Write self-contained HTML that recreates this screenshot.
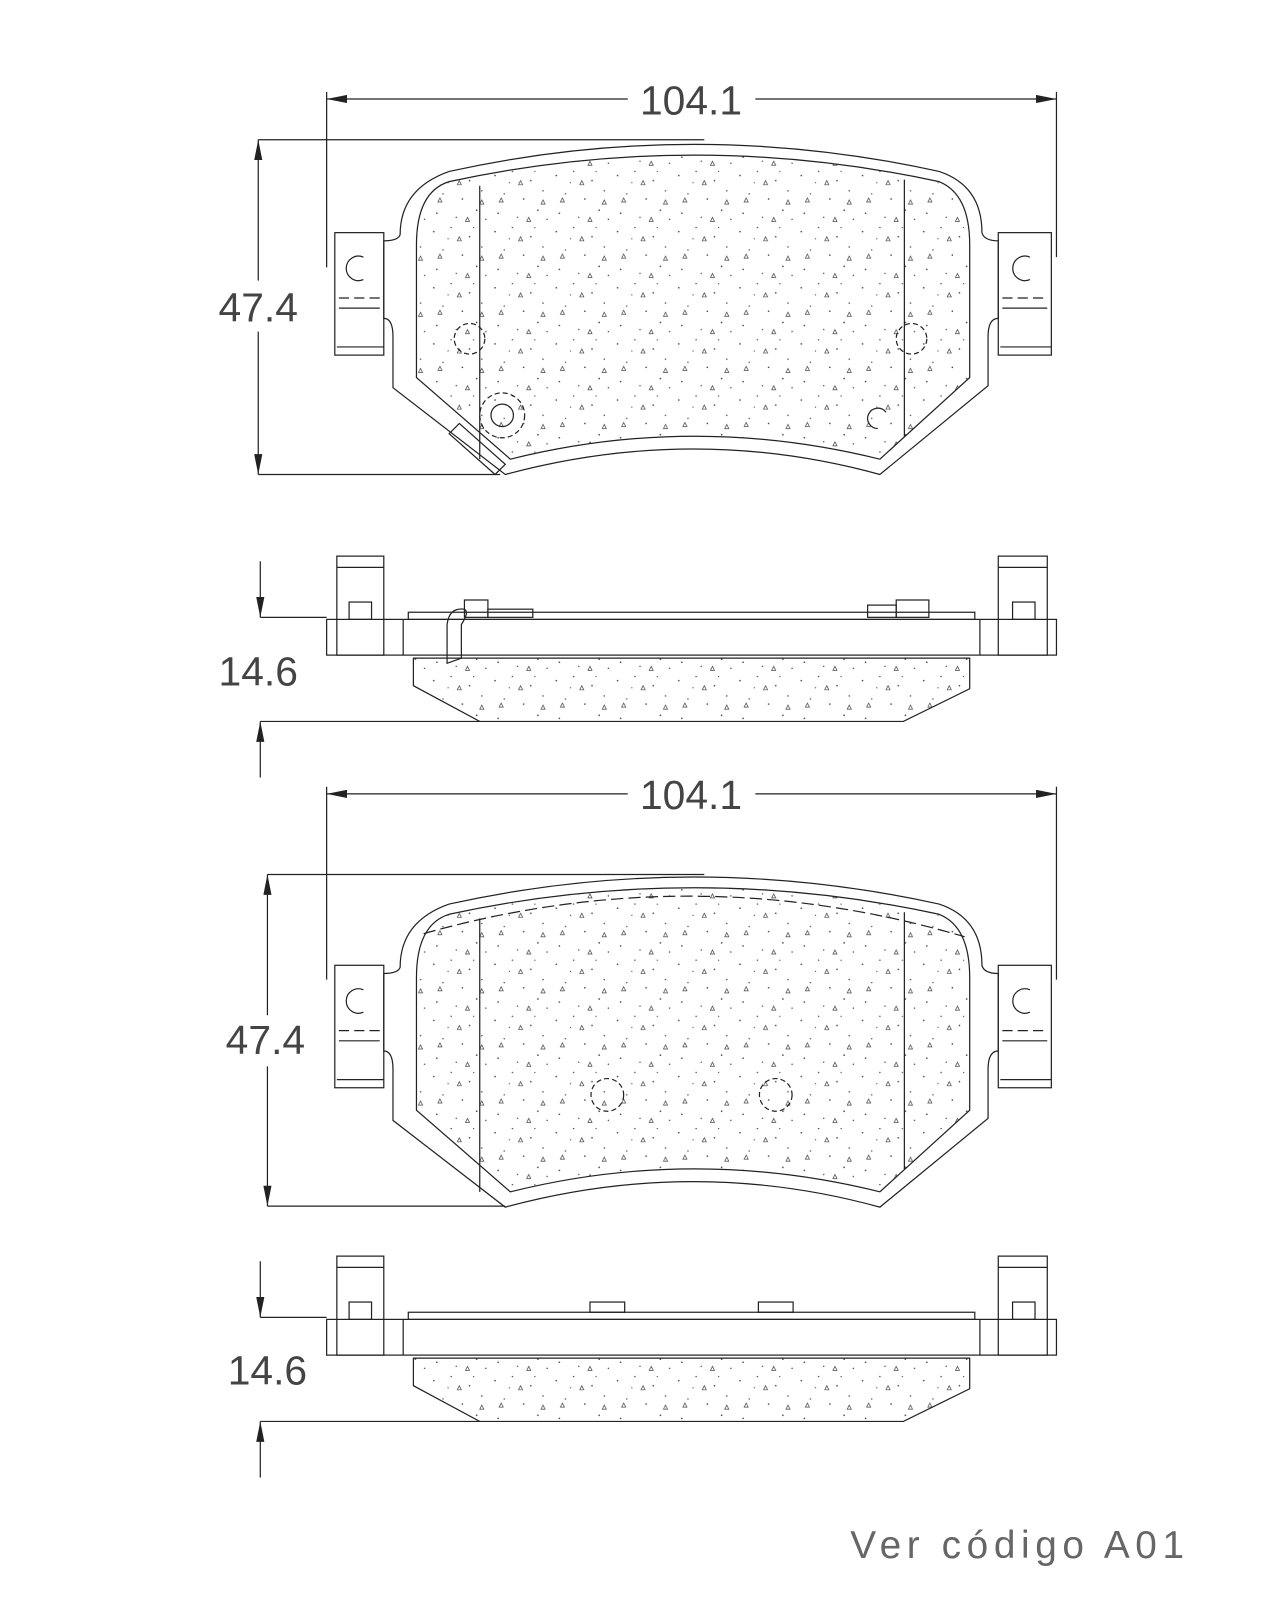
<!DOCTYPE html>
<html><head><meta charset="utf-8"><style>
html,body{margin:0;padding:0;background:#fff;}
svg{display:block;}
text{font-family:"Liberation Sans",sans-serif;fill:#444;}
</style></head><body>
<svg width="1280" height="1600" viewBox="0 0 1254 1568" preserveAspectRatio="none" xmlns="http://www.w3.org/2000/svg">
<defs>
<pattern id="sp" width="60" height="55" patternUnits="userSpaceOnUse">
<circle cx="5" cy="7" r="0.8" fill="#444"/><circle cx="22" cy="3" r="0.7" fill="#444"/>
<circle cx="40" cy="12" r="0.8" fill="#444"/><circle cx="14" cy="25" r="0.7" fill="#444"/>
<circle cx="33" cy="30" r="0.8" fill="#444"/><circle cx="52" cy="22" r="0.7" fill="#444"/>
<circle cx="8" cy="44" r="0.8" fill="#444"/><circle cx="27" cy="48" r="0.7" fill="#444"/>
<circle cx="47" cy="41" r="0.8" fill="#444"/><circle cx="56" cy="50" r="0.7" fill="#444"/>
<circle cx="19" cy="14" r="0.6" fill="#444"/><circle cx="44" cy="3" r="0.6" fill="#444"/>
<path d="M28 16 l4 0 l-2 -4 z M9 33 l4 0 l-2 -4 z M50 35 l4 0 l-2 -4 z M36 52 l4 0 l-2 -4 z" fill="none" stroke="#444" stroke-width="0.7"/>
</pattern>
<marker id="ar" viewBox="0 0 20 8" refX="20" refY="4" markerWidth="20" markerHeight="8" markerUnits="userSpaceOnUse" orient="auto"><path d="M0 0 L20 4 L0 8 z" fill="#222"/></marker>
</defs>
<g fill="none" stroke="#222" stroke-width="1.2">

<g id="front">
<path d="M392,230 Q392,185 440,168 Q680,115 920,168 Q962,182 962,228 Q964,236 978,236 L978,312 Q968,312 968,330 L968,378 L862,465 Q680,415 495,465 L385,380 L385,330 Q385,312 376,312 L376,236 Q390,236 392,230 Z"/>
<path d="M408,240 Q408,188 440,178 Q680,126 920,178 Q950,190 950,240 L950,370 L862,450 Q680,405 500,450 L408,370 Z" fill="url(#sp)"/>
<line x1="470" y1="182" x2="470" y2="450"/>
<line x1="886" y1="176" x2="886" y2="428"/>
<rect x="328" y="228" width="48" height="120"/>
<rect x="978" y="228" width="52" height="120"/>
<line x1="330" y1="340" x2="376" y2="340"/><line x1="980" y1="340" x2="1030" y2="340"/>
<path d="M356,252 A12,12 0 1,0 356,274" /><path d="M1009,252 A12,12 0 1,0 1009,274"/>
<line x1="332" y1="292" x2="372" y2="292" stroke-dasharray="10,5"/><line x1="982" y1="292" x2="1026" y2="292" stroke-dasharray="10,5"/>
<line x1="332" y1="302" x2="372" y2="302"/><line x1="982" y1="302" x2="1026" y2="302"/>
</g>
<circle cx="460" cy="332" r="15" stroke-dasharray="5,3"/>
<circle cx="893" cy="332" r="15" stroke-dasharray="5,3"/>
<circle cx="492" cy="407" r="11"/><circle cx="492" cy="407" r="22" stroke-dasharray="5,3"/>
<path d="M860,420 A10,10 0 1,1 868,404"/>
<path d="M440,425 L485,465 L495,455 L450,415 Z"/>

<line x1="320" y1="90" x2="320" y2="262"/><line x1="1035" y1="90" x2="1035" y2="252"/>
<line x1="615" y1="97" x2="320" y2="97" marker-end="url(#ar)"/>
<line x1="740" y1="97" x2="1035" y2="97" marker-end="url(#ar)"/>
<line x1="253" y1="137" x2="690" y2="137"/><line x1="253" y1="465" x2="490" y2="465"/>
<line x1="253" y1="275" x2="253" y2="137" marker-end="url(#ar)"/>
<line x1="253" y1="325" x2="253" y2="465" marker-end="url(#ar)"/>

<g id="side">
<rect x="330" y="545" width="46" height="97"/><rect x="978" y="545" width="48" height="97"/>
<line x1="330" y1="556" x2="376" y2="556"/><line x1="978" y1="556" x2="1026" y2="556"/>
<rect x="342" y="590" width="22" height="17"/><rect x="992" y="590" width="22" height="17"/>
<rect x="320" y="607" width="715" height="35"/>
<line x1="395" y1="607" x2="395" y2="642"/><line x1="960" y1="607" x2="960" y2="642"/>
<rect x="400" y="600" width="555" height="7"/>
<path d="M405,645 L950,645 L950,675 L885,707 L470,707 L405,672 Z" fill="url(#sp)"/>
<line x1="255" y1="605" x2="320" y2="605"/><line x1="255" y1="707" x2="470" y2="707"/>
<line x1="255" y1="550" x2="255" y2="605" marker-end="url(#ar)"/>
<line x1="255" y1="762" x2="255" y2="707" marker-end="url(#ar)"/>
</g>
<rect x="455" y="588" width="23" height="17"/><rect x="478" y="597" width="44" height="8"/>
<rect x="850" y="593" width="28" height="12"/><rect x="878" y="588" width="32" height="17"/>
<path d="M438,650 L438,612 Q440,595 455,597 Q460,600 452,612 L452,645 Z"/>

<use href="#front" transform="translate(0,718)"/>
<circle cx="595" cy="1073" r="16" stroke-dasharray="5,3"/>
<circle cx="760" cy="1073" r="16" stroke-dasharray="5,3"/>
<path d="M415,915 Q680,840 945,918" stroke-dasharray="12,5"/>

<line x1="320" y1="771" x2="320" y2="960"/><line x1="1035" y1="771" x2="1035" y2="960"/>
<line x1="615" y1="778" x2="320" y2="778" marker-end="url(#ar)"/>
<line x1="740" y1="778" x2="1035" y2="778" marker-end="url(#ar)"/>
<line x1="262" y1="857" x2="690" y2="857"/><line x1="262" y1="1182" x2="495" y2="1182"/>
<line x1="262" y1="995" x2="262" y2="857" marker-end="url(#ar)"/>
<line x1="262" y1="1045" x2="262" y2="1182" marker-end="url(#ar)"/>

<use href="#side" transform="translate(0,686)"/>
<rect x="578" y="1276" width="34" height="10"/><rect x="743" y="1276" width="34" height="10"/>
</g>

<g font-size="40">
<text x="677" y="112" text-anchor="middle">104.1</text>
<text x="677" y="793" text-anchor="middle">104.1</text>
<text x="253" y="315" text-anchor="middle">47.4</text>
<text x="260" y="1033" text-anchor="middle">47.4</text>
<text x="253" y="672" text-anchor="middle">14.6</text>
<text x="262" y="1357" text-anchor="middle">14.6</text>
</g>
<text x="833" y="1527" font-size="38" textLength="327" lengthAdjust="spacing" style="fill:#666">Ver  código  A01</text>
</svg>
</body></html>
